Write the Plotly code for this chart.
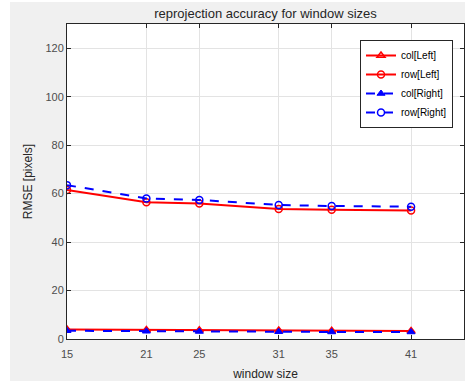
import plotly.graph_objects as go

window_sizes = [15, 21, 25, 31, 35, 41]
col_left = [3.9, 3.7, 3.6, 3.5, 3.4, 3.3]
row_left = [61.5, 56.4, 55.9, 53.7, 53.3, 53.0]
col_right = [3.4, 3.2, 3.1, 3.0, 2.9, 2.9]
row_right = [63.5, 58.0, 57.4, 55.3, 54.9, 54.6]
x_ticks = [15, 21, 25, 31, 35, 41]
y_ticks = [0, 20, 40, 60, 80, 100, 120]

RED = "#ff0000"
BLUE = "#0000ff"
FONT = "Liberation Sans, Arial, sans-serif"

fig = go.Figure()
fig.add_trace(go.Scatter(x=window_sizes, y=col_left, name="col[Left]", mode="lines+markers",
                         line=dict(color=RED, width=2),
                         marker=dict(symbol="triangle-up-open", size=7, color=RED, line=dict(width=1.5, color=RED))))
fig.add_trace(go.Scatter(x=window_sizes, y=row_left, name="row[Left]", mode="lines+markers",
                         line=dict(color=RED, width=2),
                         marker=dict(symbol="circle-open", size=7, color=RED, line=dict(width=1.5, color=RED))))
fig.add_trace(go.Scatter(x=window_sizes, y=col_right, name="col[Right]", mode="lines+markers",
                         line=dict(color=BLUE, width=2, dash="dash"),
                         marker=dict(symbol="triangle-up", size=7, color=BLUE, line=dict(width=1, color=BLUE))))
fig.add_trace(go.Scatter(x=window_sizes, y=row_right, name="row[Right]", mode="lines+markers",
                         line=dict(color=BLUE, width=2, dash="dash"),
                         marker=dict(symbol="circle-open", size=7, color=BLUE, line=dict(width=1.5, color=BLUE))))

axis_common = dict(showline=True, linecolor="#262626", linewidth=1, mirror="ticks",
                   ticks="inside", ticklen=4, tickcolor="#262626",
                   showgrid=True, gridcolor="#e3e3e3", gridwidth=1, zeroline=False,
                   automargin=False,
                   tickfont=dict(family=FONT, size=11, color="#4d4d4d"))

L, R, T, B = 67, 1, 24, 42
W, H = 465, 381
pw, ph = W - L - R, H - T - B

def px_x(p):
    return (p - L) / pw

def px_y(p):
    return (H - B - p) / ph

fig.update_layout(
    width=W, height=H,
    margin=dict(l=L, r=R, t=T, b=B),
    paper_bgcolor="#f0f0f0",
    plot_bgcolor="#ffffff",
    title=dict(text="reprojection accuracy for window sizes", x=0.5, xanchor="center",
               y=1 - 13 / H, yanchor="middle", xref="paper",
               font=dict(family=FONT, size=13, color="#262626")),
    xaxis=dict(range=[15, 45], tickvals=x_ticks, ticktext=[str(v) for v in x_ticks],
               ticklabelstandoff=5,
               title=dict(text="window size", standoff=10,
                          font=dict(family=FONT, size=12, color="#262626")),
               **axis_common),
    yaxis=dict(range=[0, 130], tickvals=y_ticks, ticktext=[str(v) for v in y_ticks],
               title=dict(text="RMSE [pixels]", standoff=10,
                          font=dict(family=FONT, size=12, color="#262626")),
               **axis_common),
    legend=dict(x=px_x(453), y=px_y(40), xanchor="right", yanchor="top",
                bgcolor="#ffffff", bordercolor="#262626", borderwidth=1,
                font=dict(family=FONT, size=10, color="#000000"),
                tracegroupgap=0, itemwidth=30),
    showlegend=True,
    shapes=[
        dict(type="rect", xref="paper", yref="paper", x0=px_x(0), x1=px_x(10), y0=px_y(H), y1=px_y(0),
             fillcolor="#ffffff", line=dict(width=0), layer="above"),
        dict(type="rect", xref="paper", yref="paper", x0=px_x(0), x1=px_x(W), y0=px_y(2), y1=px_y(0),
             fillcolor="#ffffff", line=dict(width=0), layer="above"),
    ],
)

fig.write_html("out.html", config={"displayModeBar": False},
               post_script="document.body.style.margin='0';document.body.style.overflow='hidden';")
